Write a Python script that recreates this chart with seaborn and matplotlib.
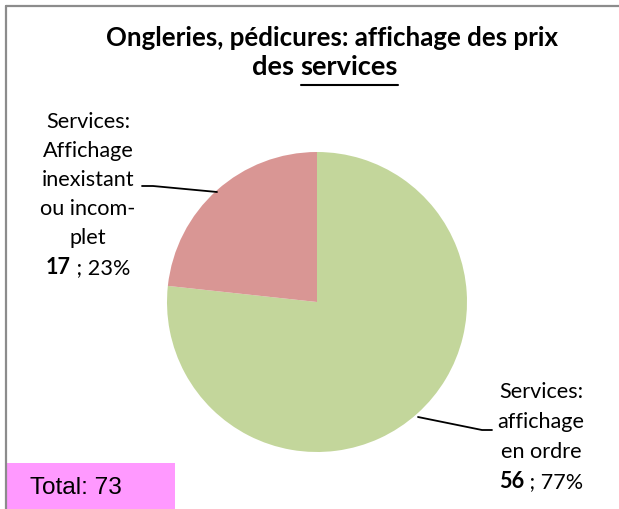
import matplotlib
matplotlib.use("Agg")
import matplotlib.pyplot as plt
import seaborn as sns
from matplotlib.lines import Line2D
from matplotlib.patches import Rectangle

# ---- data ----
categories = ["Services:\naffichage\nen ordre", "Services:\nAffichage\ninexistant\nou incom-\nplet"]
values = [56, 17]
colors = ["#C3D69B", "#D99694"]
title_line1 = "Ongleries, pédicures: affichage des prix"
title_line2_a = "des "
title_line2_b = "services"
total_label = "Total: 73"

sns.set_theme(style="white")
plt.rcParams['font.family'] = ['Lato', 'DejaVu Sans']

W, H = 619, 509
fig = plt.figure(figsize=(W / 100, H / 100), dpi=100)
fig.patch.set_facecolor("white")


def fx(x):
    return x / W


def fy(y):
    return 1 - y / H


# pie axes: center (317, 302), radius 150
cx, cy, r = 317, 302, 150
ax = fig.add_axes([fx(cx - r), fy(cy + r), 2 * r / W, 2 * r / H])
ax.pie(values, colors=colors, startangle=90, counterclock=False, radius=1,
       wedgeprops=dict(linewidth=0))
ax.set_xlim(-1, 1)
ax.set_ylim(-1, 1)
ax.set_aspect("auto")
ax.axis("off")

# frame (top and left borders)
fig.add_artist(Line2D([fx(6), fx(W + 5)], [fy(6), fy(6)], color="#8c8c8c", lw=1.6))
fig.add_artist(Line2D([fx(6), fx(6)], [fy(6), fy(H + 5)], color="#8c8c8c", lw=1.6))

fig.canvas.draw()
renderer = fig.canvas.get_renderer()


def text_width(s, fs, **kw):
    t = fig.text(0, 0, s, fontsize=fs, **kw)
    w = t.get_window_extent(renderer).width
    t.remove()
    return w


def fit_size(s, target, **kw):
    return 20 * target / text_width(s, 20, **kw)


# title
fs_title = fit_size(title_line1, 451, fontweight="bold")
fig.text(fx(332), fy(38), title_line1, ha="center", va="center",
         fontsize=fs_title, fontweight="bold", color="black")
fs_t2 = fit_size(title_line2_a + title_line2_b, 154, fontweight="bold")
fs_t2 = (fs_t2 + fs_title) / 2
wa = text_width(title_line2_a.strip() + "\u00a0", fs_t2, fontweight="bold")
wb = text_width(title_line2_b, fs_t2, fontweight="bold")
x0 = 325 - (wa + wb) / 2
fig.text(fx(x0), fy(67), title_line2_a.strip(), ha="left", va="center",
         fontsize=fs_t2, fontweight="bold", color="black")
fig.text(fx(x0 + wa), fy(67), title_line2_b, ha="left", va="center",
         fontsize=fs_t2, fontweight="bold", color="black")
fig.add_artist(Line2D([fx(x0 + wa), fx(x0 + wa + wb)], [fy(85), fy(85)], color="black", lw=1.5))

# labels
lab_fs = fit_size("inexistant", 93)


def two_part(xc, y, bold_s, rest_s):
    wbld = text_width(bold_s, lab_fs, fontweight="bold")
    wr = text_width(rest_s, lab_fs)
    xs = xc - (wbld + wr) / 2
    fig.text(fx(xs), fy(y), bold_s, ha="left", va="center", fontsize=lab_fs,
             fontweight="bold", color="black")
    fig.text(fx(xs + wbld), fy(y), rest_s, ha="left", va="center", fontsize=lab_fs,
             color="black")


left_lines = categories[1].split("\n")
right_lines = categories[0].split("\n")
left_x = 88
left_y = [122, 151, 180, 209, 238]
for s, y in zip(left_lines, left_y):
    fig.text(fx(left_x), fy(y), s, ha="center", va="center", fontsize=lab_fs, color="black")
two_part(left_x, 268, f"{values[1]}", f"\u00a0; {round(100 * values[1] / sum(values))}%")

right_x = 541
right_y = [392, 422, 452]
for s, y in zip(right_lines, right_y):
    fig.text(fx(right_x), fy(y), s, ha="center", va="center", fontsize=lab_fs, color="black")
two_part(right_x, 482, f"{values[0]}", f"\u00a0; {round(100 * values[0] / sum(values))}%")

# leader lines
fig.add_artist(Line2D([fx(142), fx(153), fx(217)], [fy(186), fy(186), fy(192)], color="black", lw=1.3))
fig.add_artist(Line2D([fx(418), fx(482), fx(492)], [fy(417), fy(430), fy(430)], color="black", lw=1.3))

# total box
fig.add_artist(Rectangle((fx(7), fy(H + 2)), (175 - 7) / W, (H + 2 - 463) / H,
                         facecolor="#FF99FF", edgecolor="none", transform=fig.transFigure))
tot_fs = fit_size(total_label, 92, family="Liberation Sans")
fig.text(fx(30), fy(488), total_label, ha="left", va="center", fontsize=tot_fs,
         family="Liberation Sans", color="black")

fig.savefig("out.png", dpi=100)
